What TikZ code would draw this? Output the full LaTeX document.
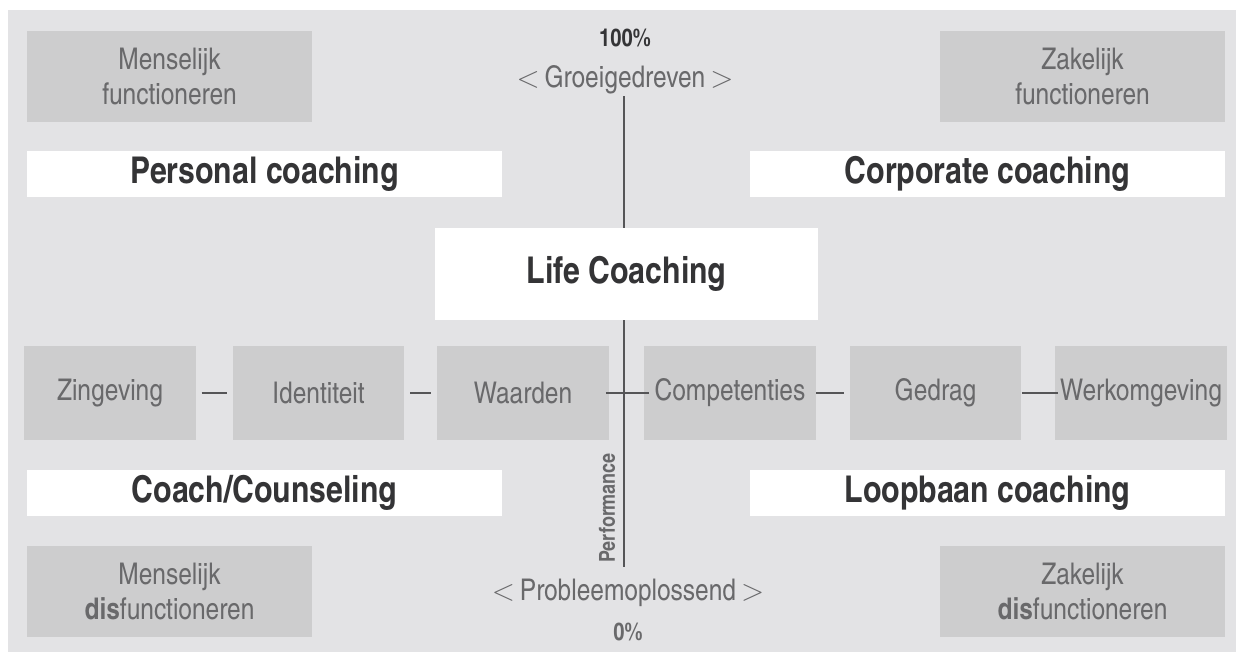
\documentclass[tikz,border=0pt]{standalone}
\usepackage{fontspec}
\setmainfont{texgyreheroscn}[Extension=.otf, UprightFont=*-regular, BoldFont=*-bold]
\usepackage{tikz}
\usetikzlibrary{positioning}

\definecolor{bggray}{RGB}{227,227,229}
\definecolor{boxgray}{RGB}{205,205,206}
\definecolor{txtgray}{RGB}{105,105,107}
\definecolor{darktxt}{RGB}{52,52,54}
\definecolor{axisgray}{RGB}{85,85,87}

\begin{document}
\begin{tikzpicture}[x=0.02cm, y=-0.02cm,
	greybox/.style={fill=boxgray, minimum width=5.7cm, minimum height=1.84cm, align=center, text=txtgray, font=\fontsize{17}{20}\selectfont, inner sep=0pt},
	rowbox/.style={fill=boxgray, minimum width=3.44cm, minimum height=1.88cm, text=txtgray, font=\fontsize{17}{20}\selectfont, inner sep=0pt},
	whitebar/.style={fill=white, minimum width=9.5cm, minimum height=0.92cm, text=darktxt, font=\bfseries\fontsize{21}{24}\selectfont, inner sep=0pt},
	axistext/.style={text=txtgray, font=\fontsize{17}{20}\selectfont, inner sep=1pt},
	link/.style={draw=axisgray, line width=1.2pt}]
	\useasboundingbox (0,0) rectangle (1241,658);
	\fill[bggray] (8,10) rectangle (1236,652);
	
	% corners
	\node[greybox] (mf) at (169.5,76.5) {Menselijk\\functioneren};
	\node[greybox] (zf) at (1082.5,76.5) {Zakelijk\\functioneren};
	\node[greybox] (md) at (169.5,591.5) {Menselijk\\\textbf{dis}functioneren};
	\node[greybox] (zd) at (1082.5,591.5) {Zakelijk\\\textbf{dis}functioneren};
	
	\node[whitebar] (pc) at (264.5,174) {Personal coaching};
	\node[whitebar] (cc) at (987.5,174) {Corporate coaching};
	\node[whitebar] (cs) at (264.5,493) {Coach/Counseling};
	\node[whitebar] (lc) at (987.5,493) {Loopbaan coaching};
	
	\node[fill=white, minimum width=7.66cm, minimum height=1.84cm, text=darktxt, font=\bfseries\fontsize{21}{24}\selectfont] (life) at (626.5,274) {Life Coaching};
	
	% axis
	\node[text=darktxt, font=\bfseries\fontsize{14}{16}\selectfont] (top) at (625,38) {100\%};
	\node[axistext] (grow) at (625,80) {$<$\,Groeigedreven\,$>$};
	\node[axistext] (prob) at (628,593) {$<$\,Probleemoplossend\,$>$};
	\node[text=txtgray, font=\bfseries\fontsize{14}{16}\selectfont] (bot) at (628,632) {0\%};
	\node[rotate=90, text=txtgray, font=\bfseries\fontsize{12.5}{14}\selectfont] (perf) at (607,508) {Performance};
	\coordinate (axisend) at (624,567);
	
	\draw[link] (grow.south -| 624,0) -- (life.north -| 624,0);
	\draw[link] (life.south -| 624,0) -- (axisend);
	
	% row
	\node[rowbox] (zin) at (110,393) {Zingeving};
	\node[rowbox] (ide) at (318.5,393) {Identiteit};
	\node[rowbox] (waa) at (523,393) {Waarden};
	\node[rowbox] (com) at (730,393) {Competenties};
	\node[rowbox] (ged) at (935.5,393) {Gedrag};
	\node[rowbox] (wer) at (1141,393) {Werkomgeving};
	
	\draw[link, shorten <=3pt, shorten >=3pt] (zin) -- (ide);
	\draw[link, shorten <=3pt, shorten >=3pt] (ide) -- (waa);
	\draw[link, shorten <=-2pt, shorten >=-3pt] (waa) -- (com);
	\draw[link, shorten >=3pt] (com) -- (ged);
	\draw[link, shorten <=0pt, shorten >=-2pt] (ged) -- (wer);
	
\end{tikzpicture}
\end{document}
